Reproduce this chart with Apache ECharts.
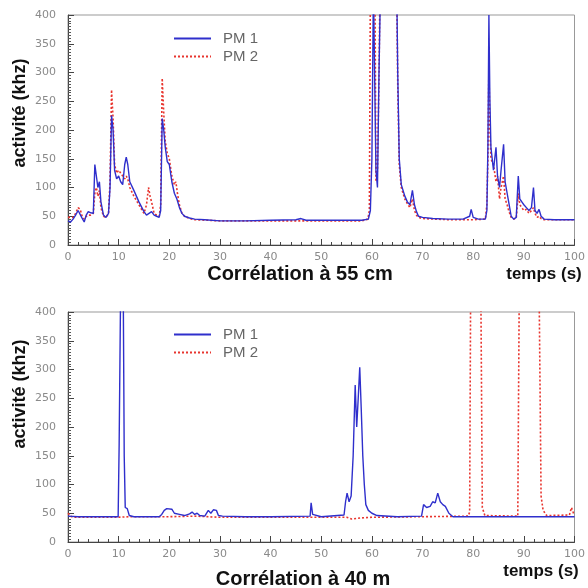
<!DOCTYPE html>
<html><head><meta charset="utf-8">
<script src="https://cdn.jsdelivr.net/npm/echarts@6/dist/echarts.min.js"></script>
<style>html,body{margin:0;padding:0;background:#fff}#c{width:588px;height:588px}</style>
</head><body><div id="c"></div>
<script>
// ---- Chart A: Corrélation à 55 cm ----
const tA1 = [0,0.5,1,1.5,2,2.3,2.7,3.2,3.6,4,4.5,5,5.3,5.6,5.9,6.2,6.5,7,7.5,8,8.3,8.6,8.9,9.2,9.6,10,10.4,10.8,11.2,11.5,11.8,12.2,13,14,15,15.5,16,16.5,17,17.5,18,18.3,18.6,18.9,19.2,19.6,20,20.5,21,21.5,22,22.5,23,24,25,27,30,35,40,45,46,47,50,55,58,59.3,59.7,60,60.3,60.6,60.8,61.1,61.4,61.7,64.9,65.1,65.4,65.8,66.5,67,67.5,68,68.4,68.8,69.2,70,72,75,78,79.3,79.6,80,81,82.4,82.7,82.9,83.1,83.3,83.5,84,84.5,84.8,85.2,85.5,86,86.3,86.7,87,87.5,88,88.5,88.9,89.2,89.6,90,90.5,91,91.5,91.9,92.2,92.6,93,93.4,94,96,100];
const vA1 = [42,40,45,52,60,62,48,40,52,58,56,55,140,120,100,110,75,52,48,55,100,225,200,130,115,120,110,105,140,153,140,110,95,75,58,52,55,58,52,50,48,60,220,200,170,145,140,110,90,80,65,55,50,47,45,44,42,42,43,44,46,43,43,43,43,45,60,150,450,450,130,100,300,450,450,300,150,105,85,75,70,95,70,58,50,48,46,45,45,50,62,48,45,45,60,170,400,250,170,130,170,120,100,130,175,110,90,75,50,45,48,120,80,75,70,65,60,65,100,60,55,62,50,45,44,44];
const tA2 = [0,0.5,1,1.5,2,2.4,2.8,3.2,3.6,4,4.5,5,5.3,5.6,5.9,6.2,6.5,7,7.5,8,8.3,8.6,8.9,9.2,9.6,10,10.4,10.8,11.2,11.5,11.8,12.2,13,14,15,15.5,15.9,16.2,16.5,17,17.5,18,18.3,18.6,18.9,19.2,19.6,20,20.5,21,21.3,21.6,22,22.5,23,24,25,30,40,50,58,59.2,59.5,59.7,60.6,60.8,61.1,61.4,61.6,64.9,65.1,65.4,65.8,66.5,67,67.5,68,68.4,68.8,69.2,70,75,80,82.4,82.7,82.9,83.1,83.3,83.5,84,84.5,84.8,85.2,85.5,86,86.3,86.7,87,87.5,88,88.5,88.9,89.2,89.6,90,90.5,91,91.5,91.9,92.2,92.6,93,93.4,94,100];
const vA2 = [48,48,48,55,65,62,50,45,50,52,52,55,90,100,85,95,65,50,48,55,110,270,220,140,125,130,125,120,115,120,115,100,85,70,55,70,100,85,75,55,52,50,70,290,230,180,160,150,120,105,110,90,70,55,50,46,44,42,42,42,42,45,60,450,450,110,130,290,450,450,280,140,100,80,72,65,80,60,52,48,46,44,44,45,70,150,310,200,150,140,110,120,80,100,120,80,70,60,48,45,47,90,70,65,60,62,55,60,65,55,48,50,46,44,44];
// ---- Chart B: Corrélation à 40 m ----
const tB1 = [0,2,5,9.9,10.1,10.4,10.9,11.1,11.3,11.7,12.1,13,18,18.5,19,19.5,20.5,21,22,23,24,24.5,25,25.5,26,27,27.7,28.2,28.7,29.3,29.7,30.5,35,40,47.8,48,48.3,50,54.5,54.8,55.1,55.5,55.9,56.3,56.7,57,57.3,57.6,57.9,58.2,58.5,58.8,59.3,60,61,65,69.8,70.2,70.8,71.5,72,72.5,73,73.5,74,74.5,75.2,76,80,85,90,95,100];
const vB1 = [45,44,44,44,170,450,450,150,60,58,46,44,44,48,55,58,57,50,48,46,49,52,48,50,46,45,55,50,56,55,46,45,44,44,45,68,48,44,47,70,85,70,80,150,273,200,250,304,230,150,100,65,55,50,46,44,45,65,60,62,70,68,85,70,65,62,50,44,44,44,44,44,44];
const tB2 = [0,0.5,1,5,10,12,20,25,30,40,50,55,56,58,60,70,79,79.3,79.5,81.5,81.8,82.3,88.8,89.1,93,93.4,93.8,94.5,99,99.4,99.8,100];
const vB2 = [50,45,43,43,43,44,44,45,43,43,43,43,40,42,43,44,45,52,450,450,60,46,45,450,450,80,55,46,47,60,50,48];
// axis ticks
const xTicks = {min: 0, max: 100, interval: 10};
const yTicks = {min: 0, max: 400, interval: 50};
const titles = ['Corrélation à 55 cm', 'Corrélation à 40 m'];
const seriesNames = ['PM 1', 'PM 2'];
const yName = 'activité (khz)';
const xName = 'temps (s)';

const zip = (t, v) => t.map((x, i) => [x, v[i]]);
const BLUE = '#2f2fcc', RED = '#e8352e';
const grids = [
  {left: 68, top: 15, width: 510, height: 230},
  {left: 68, top: 312, width: 510, height: 230}
];
function xAxis(i){
  return {type:'value', gridIndex:i, min:xTicks.min, max:xTicks.max, interval:xTicks.interval,
    axisLine:{show:true,onZero:false,lineStyle:{color:'#444',width:1}},
    axisTick:{show:true,inside:true,length:6,lineStyle:{color:'#444'}},
    minorTick:{show:true,splitNumber:5,length:3,lineStyle:{color:'#444'}},
    splitLine:{show:false},
    axisLabel:{color:'#8a8a8a',fontSize:11,margin:7,fontFamily:'DejaVu Sans'}};
}
function yAxis(i){
  return {type:'value', gridIndex:i, min:yTicks.min, max:yTicks.max, interval:yTicks.interval,
    axisLine:{show:true,onZero:false,lineStyle:{color:'#444',width:1}},
    axisTick:{show:true,inside:true,length:6,lineStyle:{color:'#444'}},
    minorTick:{show:true,splitNumber:10,length:3,lineStyle:{color:'#555'}},
    splitLine:{show:false},
    axisLabel:{color:'#8a8a8a',fontSize:11,margin:12,fontFamily:'DejaVu Sans'}};
}
function line(name, i, data, color, dotted){
  return {name, type:'line', xAxisIndex:i, yAxisIndex:i, data, symbol:'none', clip:true,
    lineStyle:{color, width: dotted?1.6:1.4, type: dotted?[2,2]:'solid'}, itemStyle:{color}, animation:false};
}
function legend(top){
  return {left:168,top:top,orient:'vertical',itemWidth:37,itemHeight:10,itemGap:3,data:seriesNames,
    itemStyle:{opacity:0},
    textStyle:{color:'#666',fontSize:15,fontFamily:'Liberation Sans',padding:[0,0,0,7]},selectedMode:false};
}
function txt(x, y, text, size, rot){
  return {type:'text', x, y, rotation: rot||0,
    style:{text, font:'bold '+size+'px "Liberation Sans"', fill:'#111', align:'center', verticalAlign:'middle'}};
}
const chart = echarts.init(document.getElementById('c'), null, {renderer:'canvas'});
chart.setOption({
  animation:false,
  grid: grids.map(g => Object.assign({show:true,borderColor:'#999',borderWidth:1,backgroundColor:'transparent'}, g)),
  xAxis:[xAxis(0), xAxis(1)],
  yAxis:[yAxis(0), yAxis(1)],
  legend:[legend(26), legend(322)],
  series:[
    line(seriesNames[1],0,zip(tA2,vA2),RED,true),
    line(seriesNames[0],0,zip(tA1,vA1),BLUE,false),
    line(seriesNames[1],1,zip(tB2,vB2),RED,true),
    line(seriesNames[0],1,zip(tB1,vB1),BLUE,false)
  ],
  graphic:[
    txt(20, 113, yName, 18, Math.PI/2),
    txt(20, 394, yName, 18, Math.PI/2),
    txt(300, 274, titles[0], 20),
    txt(303, 579, titles[1], 20),
    txt(544, 274, xName, 17),
    txt(541, 571, xName, 17)
  ]
});
</script></body></html>
